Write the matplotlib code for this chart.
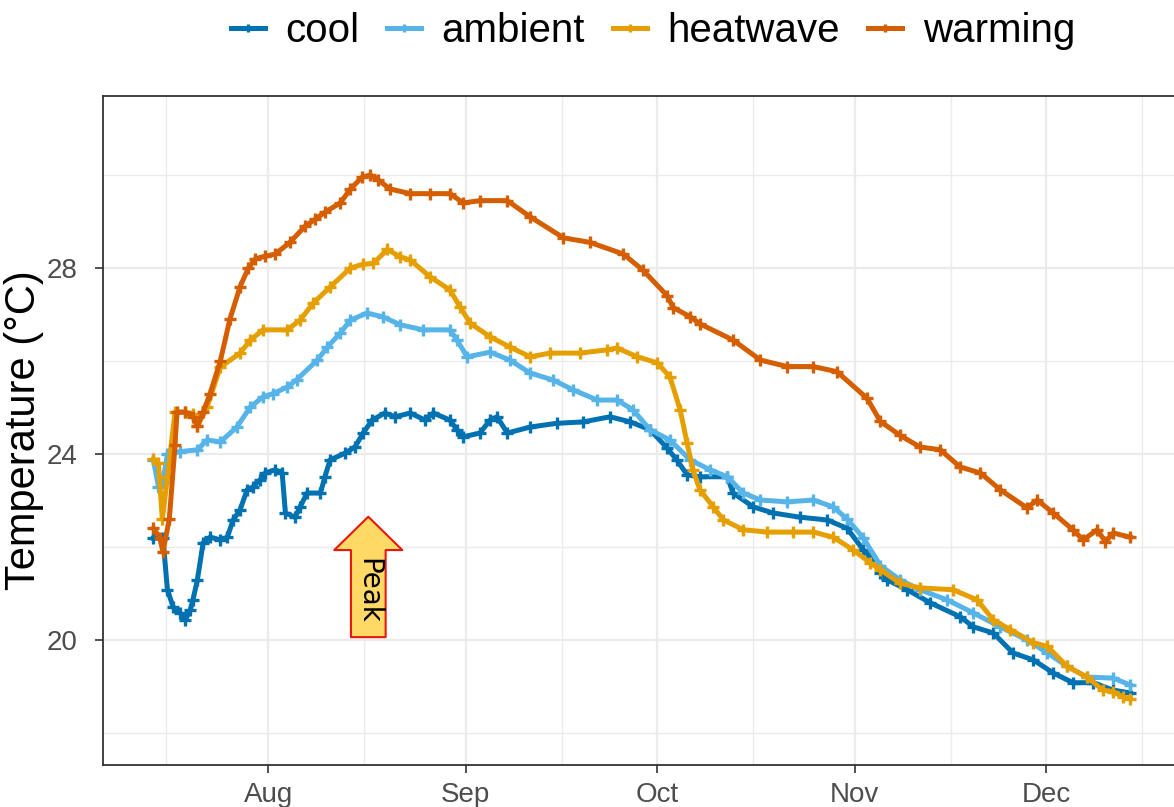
import numpy as np
import pandas as pd
import matplotlib
matplotlib.use("Agg")
import matplotlib.pyplot as plt
import matplotlib.dates as mdates

plt.rcParams['font.family'] = ['Liberation Sans', 'DejaVu Sans']

# days since 1 Aug, temperature (degC)
cool_days = [-18.0, -16.5, -15.8, -14.9, -13.8, -13.0, -12.2, -11.8, -11.1, -10.2, -9.1, -7.5, -6.4,
             -5.5, -4.4, -3.3, -2.4, -1.3, -0.5, 1.1, 2.2, 2.7, 4.2, 5.0, 6.1, 8.2, 8.9, 9.7, 12.1,
             13.6, 14.9, 16.3, 18.3, 19.9, 22.3, 24.6, 25.9, 28.5, 29.6, 30.6, 33.2, 34.8, 35.9,
             37.5, 41.1, 45.3, 49.4, 53.6, 56.8, 59.9, 62.6, 64.1, 65.7, 67.7, 72.0, 72.9, 76.1,
             79.2, 83.4, 87.7, 90.8, 93.3, 94.5, 96.0, 97.1, 100.2, 103.8, 108.5, 110.6, 113.7,
             116.8, 120.0, 123.1, 126.2, 129.4, 132.5, 135.2]
cool_temp = [22.19, 22.19, 21.08, 20.71, 20.58, 20.43, 20.65, 20.86, 21.29, 22.09, 22.21, 22.15, 22.21,
             22.58, 22.80, 23.23, 23.29, 23.44, 23.59, 23.66, 23.59, 22.73, 22.64, 22.86, 23.16, 23.16,
             23.51, 23.87, 24.02, 24.15, 24.45, 24.73, 24.88, 24.80, 24.88, 24.73, 24.88, 24.73, 24.52,
             24.37, 24.45, 24.73, 24.80, 24.45, 24.58, 24.66, 24.69, 24.80, 24.69, 24.52, 24.12, 23.87,
             23.55, 23.51, 23.51, 23.16, 22.86, 22.73, 22.64, 22.58, 22.40, 21.94, 21.79, 21.44, 21.29,
             21.08, 20.80, 20.50, 20.28, 20.15, 19.72, 19.57, 19.29, 19.08, 19.08, 18.92, 18.86]

ambient_days = [-18.0, -17.2, -16.5, -15.8, -13.8, -11.1, -9.6, -7.5, -4.9, -2.8, -0.8, 0.8, 3.0, 4.5,
                7.7, 9.3, 11.3, 12.9, 15.5, 18.0, 20.7, 24.3, 28.5, 29.6, 31.2, 34.8, 37.9, 41.1, 44.7,
                47.8, 51.6, 54.7, 57.2, 59.9, 63.0, 66.2, 69.3, 72.0, 74.5, 77.2, 81.4, 85.5, 88.6,
                90.8, 93.3, 96.0, 99.1, 102.2, 106.5, 110.6, 114.8, 119.0, 122.2, 125.3, 128.4, 132.5,
                135.2]
ambient_temp = [23.87, 23.30, 23.40, 24.00, 24.05, 24.09, 24.30, 24.26, 24.58, 25.01, 25.23, 25.30, 25.44,
                25.60, 26.02, 26.30, 26.60, 26.88, 27.03, 26.95, 26.78, 26.67, 26.67, 26.45, 26.09, 26.19,
                26.02, 25.74, 25.59, 25.38, 25.16, 25.16, 24.95, 24.52, 24.30, 23.87, 23.66, 23.51, 23.16,
                23.01, 22.97, 23.01, 22.86, 22.60, 22.20, 21.60, 21.29, 21.08, 20.86, 20.58, 20.28, 20.00,
                19.72, 19.43, 19.20, 19.18, 19.03]

heatwave_days = [-18.0, -17.2, -16.6, -15.8, -14.6, -13.0, -11.8, -11.1, -9.6, -7.5, -4.4, -2.8, -0.8,
                 3.0, 5.0, 7.1, 9.7, 12.9, 14.9, 16.5, 18.7, 20.7, 22.3, 25.4, 28.5, 30.1, 31.7, 34.8,
                 37.9, 41.1, 44.2, 48.9, 53.2, 54.7, 57.9, 61.0, 63.0, 64.6, 65.7, 66.6, 67.7, 69.8,
                 71.4, 74.5, 78.3, 82.3, 85.5, 88.6, 91.7, 94.4, 96.0, 99.1, 102.2, 107.4, 111.2,
                 113.7, 116.4, 120.0, 122.2, 125.3, 128.4, 130.9, 132.5, 134.1, 135.2]
heatwave_temp = [23.90, 23.80, 22.60, 23.50, 24.90, 24.90, 24.85, 24.60, 25.00, 25.87, 26.17, 26.45, 26.67,
                 26.67, 26.88, 27.25, 27.59, 28.00, 28.08, 28.10, 28.40, 28.24, 28.17, 27.81, 27.53, 27.16,
                 26.81, 26.52, 26.30, 26.09, 26.17, 26.17, 26.24, 26.28, 26.09, 25.96, 25.66, 24.95, 24.23,
                 23.66, 23.23, 22.86, 22.58, 22.37, 22.32, 22.32, 22.32, 22.21, 21.94, 21.66, 21.51, 21.22,
                 21.12, 21.08, 20.86, 20.43, 20.22, 19.94, 19.86, 19.43, 19.20, 18.92, 18.89, 18.77, 18.74]

warming_days = [-18.0, -17.0, -16.5, -15.5, -14.6, -14.3, -13.0, -11.8, -11.1, -10.2, -9.1, -7.5, -6.0,
                -4.4, -3.1, -2.0, -0.5, 1.1, 3.4, 5.8, 7.4, 8.9, 11.3, 12.9, 14.7, 16.0, 17.2, 19.1,
                22.3, 25.4, 28.5, 30.6, 33.2, 37.5, 41.1, 46.3, 50.5, 55.7, 58.8, 62.6, 63.5, 66.2,
                67.7, 72.9, 77.2, 81.4, 85.5, 89.2, 93.9, 96.0, 99.1, 102.2, 105.4, 108.5, 111.7,
                114.8, 119.0, 120.6, 123.1, 126.2, 127.8, 130.0, 131.3, 132.5, 135.2]
warming_temp = [22.40, 22.20, 21.90, 22.60, 24.20, 24.90, 24.90, 24.80, 24.60, 24.90, 25.30, 26.00, 26.90,
                27.60, 28.00, 28.20, 28.25, 28.30, 28.55, 28.90, 29.05, 29.20, 29.40, 29.70, 29.95, 30.00,
                29.90, 29.70, 29.60, 29.60, 29.60, 29.40, 29.45, 29.45, 29.10, 28.65, 28.55, 28.30, 27.95,
                27.40, 27.15, 26.95, 26.80, 26.45, 26.02, 25.88, 25.88, 25.77, 25.20, 24.70, 24.40, 24.15,
                24.09, 23.72, 23.59, 23.23, 22.84, 23.01, 22.73, 22.37, 22.15, 22.37, 22.11, 22.30, 22.21]

treatments = ['cool', 'ambient', 'heatwave', 'warming']
colors = ['#0072B2', '#56B4E9', '#E69F00', '#D55E00']

start = pd.Timestamp('2019-08-01')
peak_day = 15.7  # arrow position, days since 1 Aug


def to_dates(days):
    return start + pd.to_timedelta(np.array(days), unit='D')


series = {
    'cool': (cool_days, cool_temp),
    'ambient': (ambient_days, ambient_temp),
    'heatwave': (heatwave_days, heatwave_temp),
    'warming': (warming_days, warming_temp),
}

fig = plt.figure(figsize=(11.74, 8.07), dpi=100)
ax = fig.add_axes([103 / 1174, 1 - 765 / 807, (1182 - 103) / 1174, (765 - 96) / 807])

for name, col in zip(treatments, colors):
    d, t = series[name]
    ax.plot(to_dates(d), t, color=col, lw=3.6, marker='+', ms=8, mew=2.4, label=name)

# peak arrow
px = mdates.date2num(to_dates([peak_day])[0])
ax.annotate('', xy=(px, 22.65), xytext=(px, 20.06),
            arrowprops=dict(arrowstyle='simple,head_length=24,head_width=49,tail_width=25',
                            mutation_scale=1, fc='#FFD966', ec='#E8160C', lw=1.5,
                            shrinkA=0, shrinkB=0))
ax.text(px, 21.05, 'Peak', rotation=-90, ha='center', va='center', fontsize=20,
        family=['DejaVu Sans'])

ax.set_xlim(mdates.date2num(to_dates([-25.9])[0]), mdates.date2num(to_dates([143.3])[0]))
ax.set_ylim(17.31, 31.70)

ax.xaxis.set_major_locator(mdates.MonthLocator())
ax.xaxis.set_major_formatter(mdates.DateFormatter('%b'))
ax.xaxis.set_minor_locator(mdates.MonthLocator(bymonthday=16))
ax.set_yticks([20, 24, 28])
ax.set_yticks([18, 22, 26, 30], minor=True)

ax.grid(which='major', color='#EBEBEB', lw=1.6)
ax.grid(which='minor', color='#EBEBEB', lw=1.0)
ax.set_axisbelow(True)
ax.tick_params(which='major', length=6, width=1.2, color='#333333', labelsize=20,
               labelcolor='#4D4D4D')
ax.tick_params(axis='y', pad=12)
ax.tick_params(axis='x', pad=6)
ax.tick_params(which='minor', length=0)
for s in ax.spines.values():
    s.set_color('#333333')
    s.set_linewidth(1.3)

ax.set_ylabel('Temperature (°C)', fontsize=30)
ax.yaxis.set_label_coords(-0.055, 0.5)

leg = fig.legend(loc='center', bbox_to_anchor=(0.556, 0.962), ncol=4, frameon=False,
                 fontsize=29, handlelength=0.85, handletextpad=0.5, columnspacing=0.7,
                 markerscale=0.8)

fig.savefig('out.png', dpi=100)
